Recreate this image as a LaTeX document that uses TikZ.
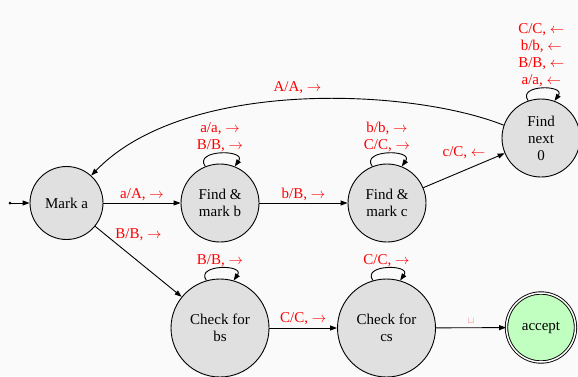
\documentclass[tikz,border=0pt]{standalone}
\usepackage{fontspec}
\setmainfont{Liberation Serif}
\usepackage{tikz}
\usetikzlibrary{positioning, arrows.meta, shapes}
\definecolor{nodeGray}{HTML}{E0E0E0}
\definecolor{acceptGreen}{HTML}{C0FFC0}
\definecolor{labelRed}{HTML}{FF0000}
\definecolor{bgGray}{HTML}{FAFAFA}
\tikzstyle{stateNode}=[draw,circle,fill=nodeGray,inner sep=0pt,align=center,line width=0.9pt]
\tikzstyle{stateTransition}=[-{Triangle[length=7pt,width=5pt]}, line width=0.9pt]
\tikzstyle{edgeLabel}=[text=labelRed, inner sep=1pt, align=center]
\newcommand{\R}{$\rightarrow$}
\newcommand{\Lft}{$\leftarrow$}

\begin{document}
\begin{tikzpicture}[x=1pt,y=1pt,font=\fontsize{15}{17}\selectfont]
  \fill[bgGray] (0,0) rectangle (578,-376);
  \useasboundingbox (0,0) rectangle (578,-376);

  % states
  \node[stateNode, minimum size=73pt] (markA) at (66.5,-203) {Mark a};
  \node[stateNode, minimum size=78pt] (findB) at (220,-203) {Find \&\\mark b};
  \node[stateNode, minimum size=78pt] (findC) at (387,-203) {Find \&\\mark c};
  \node[stateNode, minimum size=78pt] (findNext) at (541,-138) {Find\\next\\0};
  \node[stateNode, minimum size=98pt] (checkB) at (220,-328) {Check for\\bs};
  \node[stateNode, minimum size=98pt] (checkC) at (386.5,-328) {Check for\\cs};
  \node[stateNode, minimum size=69pt, fill=acceptGreen, double, double distance=1.5pt] (accept) at (541,-327.5) {accept};

  \coordinate (start) at (10,-203);
  \fill (start) circle (1.5pt);
  \draw[stateTransition] (start) -- (markA);

  % transitions
  \draw[stateTransition] (markA) -- node[edgeLabel, above=1pt] {a/A, \R} (findB);
  \draw[stateTransition] (findB) -- node[edgeLabel, above=1pt] {b/B, \R} (findC);
  \draw[stateTransition] (findC) -- node[edgeLabel, above=10pt] {c/C, \Lft} (findNext);
  \draw[stateTransition] (findNext.161) .. controls (410,-88) and (185,-78) .. (markA.48)
    node[edgeLabel, midway, above=5pt] {A/A, \R};
  \draw[stateTransition] (markA) -- node[edgeLabel, above=19pt] {B/B, \R} (checkB);
  \draw[stateTransition] (checkB) -- node[edgeLabel, above=2pt] {C/C, \R} (checkC);
  \draw[stateTransition] (checkC) -- node[edgeLabel, above=3pt, text=labelRed!60, font=\fontsize{9}{9}\selectfont] {$\sqcup$} (accept);

  % self loops
  \draw[stateTransition] (findB.112) .. controls +(125:21) and +(55:21) .. (findB.68)
    node[edgeLabel, midway, above] {a/a, \R\\B/B, \R};
  \draw[stateTransition] (findC.112) .. controls +(125:21) and +(55:21) .. (findC.68)
    node[edgeLabel, midway, above] {b/b, \R\\C/C, \R};
  \draw[stateTransition] (findNext.109.5) .. controls +(125:20) and +(55:20) .. (findNext.70.5)
    node[edgeLabel, midway, above] {C/C, \Lft\\b/b, \Lft\\B/B, \Lft\\a/a, \Lft};
  \draw[stateTransition] (checkB.106) .. controls +(125:20) and +(55:20) .. (checkB.74)
    node[edgeLabel, midway, above] {B/B, \R};
  \draw[stateTransition] (checkC.106) .. controls +(125:20) and +(55:20) .. (checkC.74)
    node[edgeLabel, midway, above] {C/C, \R};
\end{tikzpicture}
\end{document}
